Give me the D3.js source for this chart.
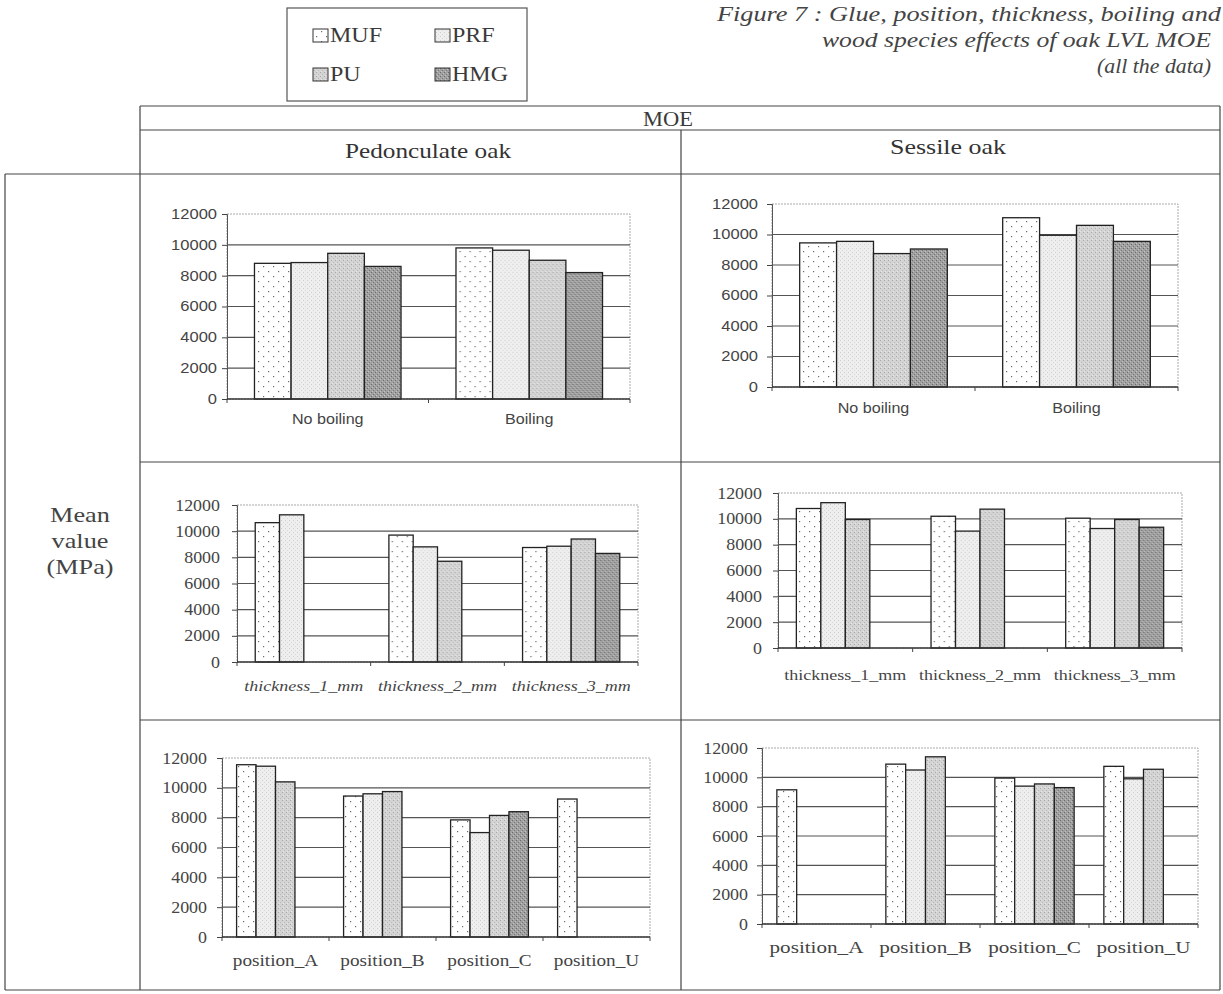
<!DOCTYPE html>
<html>
<head>
<meta charset="utf-8">
<script src="https://cdn.jsdelivr.net/npm/d3@7"></script>
<style>
body{margin:0;background:#fff}
svg{display:block}
</style>
</head>
<body>
<div id="chart"></div>
<script>
// ---------------- data (MOE, MPa) ----------------
var glues=['MUF','PRF','PU','HMG'];
var boilCats=['No boiling','Boiling'];
var thickCats=['thickness_1_mm','thickness_2_mm','thickness_3_mm'];
var posCats=['position_A','position_B','position_C','position_U'];
var yTicks=[0,2000,4000,6000,8000,10000,12000];

// one row per category, values in glue order MUF, PRF, PU, HMG (null = no data)
var pedBoiling=[[8800,8850,9450,8600],[9800,9650,9000,8200]];
var sesBoiling=[[9450,9550,8750,9050],[11100,9950,10600,9550]];
var pedThick=[[10650,11250,null,null],[9700,8800,7700,null],[8750,8850,9400,8300]];
var sesThick=[[10800,11250,9950,null],[10200,9050,10750,null],[10050,9250,9950,9350]];
var pedPos=[[11550,11450,10400,null],[9450,9600,9750,null],[7850,7000,8150,8400],[9250,null,null,null]];
var sesPos=[[9150,null,null,null],[10900,10500,11400,null],[9950,9400,9550,9300],[10750,9900,10550,null]];

var titleLines=['Figure 7 : Glue, position, thickness, boiling and','wood species effects of oak LVL MOE','(all the data)'];

// ---------------- svg ----------------
var W=1223,H=994;
var SERIF='"Liberation Serif","Times New Roman",serif',
	SANS='"Liberation Sans",Arial,sans-serif';
var svg=d3.select('#chart').append('svg').attr('width',W).attr('height',H);
var defs=svg.append('defs');

// fill patterns, one per glue
function pattern(id,bg,dots,size){
	var p=defs.append('pattern').attr('id',id).attr('patternUnits','userSpaceOnUse')
		.attr('width',size).attr('height',size);
	p.append('rect').attr('width',size).attr('height',size).attr('fill',bg);
	dots.forEach(function(d){
		p.append('rect').attr('x',d[0]).attr('y',d[1]).attr('width',d[2]).attr('height',d[2]).attr('fill',d[3]);
	});
}
pattern('p-MUF','#ffffff',[[1,1,1.2,'#6a6a6a'],[6,6,1.2,'#6a6a6a']],10);
pattern('p-PRF','#eeeeee',[[0,0,1,'#cfcfcf'],[2,2,1,'#d8d8d8']],4);
pattern('p-PU','#d4d4d4',[[0,0,1,'#a8a8a8'],[2,2,1,'#b8b8b8'],[1,3,1,'#e6e6e6']],4);
pattern('p-HMG','#a0a0a0',[[0,0,1,'#6a6a6a'],[2,2,1,'#767676'],[1,3,1,'#c4c4c4'],[3,1,1,'#bdbdbd']],4);

// stretch a text horizontally (the scan is wider than tall)
function stretch(sel,k){
	sel.each(function(){
		var l=this.getComputedTextLength();
		d3.select(this).attr('textLength',l*k).attr('lengthAdjust','spacingAndGlyphs');
	});
}
function fitTo(sel,w){
	sel.attr('textLength',w).attr('lengthAdjust','spacingAndGlyphs');
}

// ---------------- legend ----------------
var oLeg=svg.append('g');
oLeg.append('rect').attr('x',287).attr('y',8).attr('width',240).attr('height',93)
	.attr('fill','none').attr('stroke','#555').attr('stroke-width',1.2);
glues.forEach(function(g,i){
	var lx=i%2==0?313:435, ly=i<2?29:68;
	oLeg.append('rect').attr('x',lx).attr('y',ly).attr('width',15).attr('height',13)
		.attr('fill','url(#p-'+g+')').attr('stroke','#333').attr('stroke-width',1);
	oLeg.append('text').attr('x',lx+17).attr('y',ly+13).attr('font-family',SERIF)
		.attr('font-size',20).attr('fill','#3a3a3a').text(g).call(stretch,1.2);
});

// ---------------- title ----------------
var titleRight=[1221,1211,1211], titleW=[504,389,114];
titleLines.forEach(function(t,i){
	svg.append('text').attr('x',titleRight[i]).attr('y',21+i*26).attr('text-anchor','end')
		.attr('font-family',SERIF).attr('font-style','italic').attr('font-size',20)
		.attr('fill','#444').text(t).call(fitTo,titleW[i]);
});

// ---------------- table frame ----------------
var oTab=svg.append('g').attr('stroke','#444').attr('stroke-width',1.2);
function hline(x1,x2,y){oTab.append('line').attr('x1',x1).attr('x2',x2).attr('y1',y).attr('y2',y)}
function vline(x,y1,y2){oTab.append('line').attr('x1',x).attr('x2',x).attr('y1',y1).attr('y2',y2)}
hline(140,1220,106);
hline(140,1220,130);
hline(5,1220,174);
hline(140,1220,462);
hline(140,1220,720);
hline(5,1220,990);
vline(140,106,990);
vline(5,174,990);
vline(681,130,990);
vline(1220,106,990);

svg.append('text').attr('x',668).attr('y',126).attr('text-anchor','middle').attr('font-family',SERIF)
	.attr('font-size',20).attr('fill','#3a3a3a').text('MOE').call(fitTo,50);
svg.append('text').attr('x',428).attr('y',158).attr('text-anchor','middle').attr('font-family',SERIF)
	.attr('font-size',21).attr('fill','#333').text('Pedonculate oak').call(fitTo,166);
svg.append('text').attr('x',948).attr('y',154).attr('text-anchor','middle').attr('font-family',SERIF)
	.attr('font-size',21).attr('fill','#333').text('Sessile oak').call(fitTo,116);
['Mean','value','(MPa)'].forEach(function(t,i){
	svg.append('text').attr('x',80).attr('y',522+i*26).attr('text-anchor','middle').attr('font-family',SERIF)
		.attr('font-size',21).attr('fill','#444').text(t).call(stretch,1.25);
});

// ---------------- panels ----------------
var panels=[
	{cats:boilCats, vals:pedBoiling, x0:227,x1:630,y0:214,y1:399, tickFont:SANS,tickSize:14,pad:10, labFont:SANS,labSize:14,labY:424,italic:false,k:1.15},
	{cats:boilCats, vals:sesBoiling, x0:772,x1:1178,y0:204,y1:387, tickFont:SANS,tickSize:14,pad:14, labFont:SANS,labSize:14,labY:413,italic:false,k:1.15},
	{cats:thickCats,vals:pedThick,   x0:237,x1:638,y0:505,y1:662, tickFont:SERIF,tickSize:16,pad:17, labFont:SERIF,labSize:15,labY:691,italic:true,k:1.2},
	{cats:thickCats,vals:sesThick,   x0:778,x1:1182,y0:493,y1:648, tickFont:SERIF,tickSize:16,pad:16, labFont:SERIF,labSize:15,labY:680,italic:false,k:1.2},
	{cats:posCats,  vals:pedPos,     x0:222,x1:650,y0:758,y1:937, tickFont:SERIF,tickSize:16,pad:15, labFont:SERIF,labSize:16,labY:966,italic:false,k:1.2},
	{cats:posCats,  vals:sesPos,     x0:762,x1:1198,y0:748,y1:924, tickFont:SERIF,tickSize:16,pad:14, labFont:SERIF,labSize:16,labY:953,italic:false,k:1.32}
];

panels.forEach(function(c){
	var g=svg.append('g');
	var x0=d3.scaleBand().domain(c.cats).range([c.x0,c.x1]);
	var bw=x0.bandwidth(), gap=bw*1.5/5.5;	// excel gap width 150%
	var x1=d3.scaleBand().domain(glues).range([gap/2,bw-gap/2]);
	var y=d3.scaleLinear().domain([0,12000]).range([c.y1,c.y0]);

	// plot area border
	g.append('rect').attr('x',c.x0).attr('y',c.y0).attr('width',c.x1-c.x0).attr('height',c.y1-c.y0)
		.attr('fill','none').attr('stroke','#aaa').attr('stroke-dasharray','2,1');
	// gridlines
	g.selectAll('.grid').data(yTicks.filter(function(v){return v>0&&v<12000})).enter().append('line')
		.attr('x1',c.x0).attr('x2',c.x1).attr('y1',function(v){return y(v)}).attr('y2',function(v){return y(v)})
		.attr('stroke','#555').attr('stroke-width',1.1);

	// bars
	c.vals.forEach(function(row,i){
		var gc=g.append('g').attr('transform','translate('+x0(c.cats[i])+',0)');
		row.forEach(function(v,j){
			if(v==null) return;
			gc.append('rect').attr('x',x1(glues[j])).attr('y',y(v)).attr('width',x1.bandwidth())
				.attr('height',y(0)-y(v)).attr('fill','url(#p-'+glues[j]+')')
				.attr('stroke','#222').attr('stroke-width',1.3);
		});
	});

	// y axis
	var ay=g.append('g').attr('transform','translate('+c.x0+',0)')
		.call(d3.axisLeft(y).tickValues(yTicks).tickSize(5).tickPadding(c.pad-5).tickFormat(d3.format('d')));
	ay.select('.domain').attr('stroke','#555');
	ay.selectAll('.tick line').attr('stroke','#444');
	ay.selectAll('text').attr('font-family',c.tickFont).attr('font-size',c.tickSize).attr('fill','#444')
		.call(stretch,c.tickFont==SANS?1.18:1.12);

	// x axis line and ticks between categories
	g.append('line').attr('x1',c.x0).attr('x2',c.x1).attr('y1',y(0)).attr('y2',y(0))
		.attr('stroke','#333').attr('stroke-width',1.4);
	c.cats.concat(['_end']).forEach(function(cat,i){
		var tx=i<c.cats.length?x0(cat):c.x1;
		g.append('line').attr('x1',tx).attr('x2',tx).attr('y1',y(0)).attr('y2',y(0)+4).attr('stroke','#444');
	});
	// category labels
	g.selectAll('.lab').data(c.cats).enter().append('text')
		.attr('x',function(d){return x0(d)+bw/2}).attr('y',c.labY).attr('text-anchor','middle')
		.attr('font-family',c.labFont).attr('font-size',c.labSize).attr('font-style',c.italic?'italic':'normal')
		.attr('fill','#444').text(function(d){return d})
		.call(stretch,c.k);
});
</script>
</body>
</html>
